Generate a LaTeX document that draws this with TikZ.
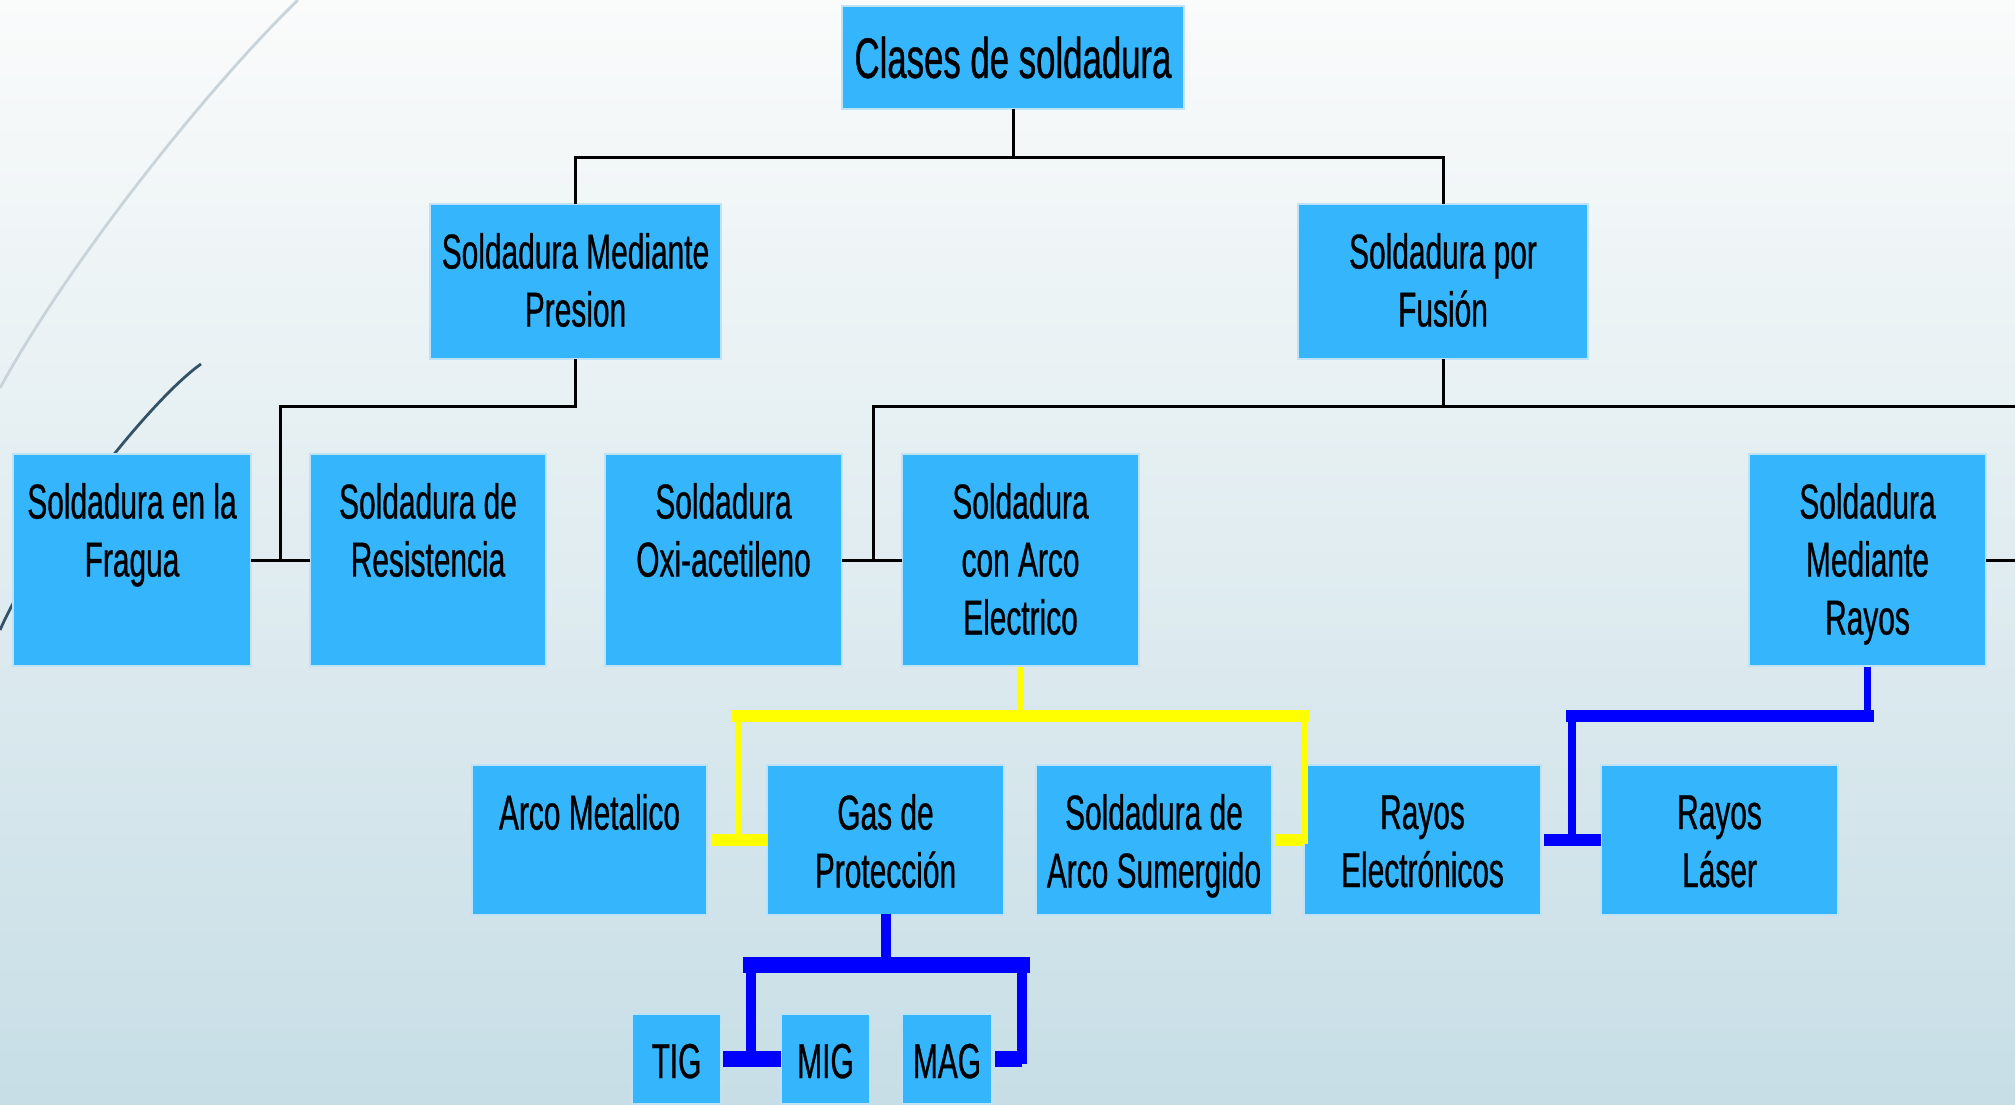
\documentclass[tikz,border=0pt]{standalone}
\usepackage{fontspec}
\setmainfont{Liberation Sans}[FakeStretch=0.61,FakeBold=0.6]
\definecolor{boxfill}{RGB}{52,181,252}
\definecolor{boxline}{RGB}{190,226,248}
\definecolor{bgtop}{RGB}{250,251,251}
\definecolor{bgbot}{RGB}{199,222,230}
\definecolor{arclight}{RGB}{200,212,218}
\definecolor{arcdark}{RGB}{52,82,102}
\definecolor{ylw}{RGB}{255,255,0}
\definecolor{blu}{RGB}{0,0,255}
\newcommand\bx[3]{\parbox[t][#2][t]{#1}{\centering\vspace*{14.5pt}\rule{0pt}{17.5pt}#3\par}}
\begin{document}
\begin{tikzpicture}[x=0.5pt,y=-0.5pt,
  box/.style={draw=boxline, fill=boxfill, line width=1pt, inner sep=0pt, outer sep=0pt,
    anchor=north west, font=\fontsize{24.5pt}{29pt}\selectfont},
  blk/.style={draw=black, line width=1.5pt},
  ythin/.style={draw=ylw, line width=3.5pt, line cap=rect},
  ythick/.style={draw=ylw, line width=6pt},
  bthin/.style={draw=blu, line width=#1, line cap=rect},
  bthick/.style={draw=blu, line width=#1}]
\useasboundingbox (0,0) rectangle (2015,1104);
\clip (0,0) rectangle (2015,1104);
\fill[top color=bgtop, bottom color=bgbot] (0,0) rectangle (2015,1104);
% decorative arcs
\draw[arclight, line width=1.4pt] (298,0) .. controls (210,85) and (70,260) .. (0,388);
\draw[arcdark, line width=1.4pt] (201,364) .. controls (150,400) and (40,540) .. (0,630);
% nodes
\node[box, minimum width=171pt, minimum height=51.5pt, font=\fontsize{28.5pt}{33pt}\selectfont] (clases) at (842,6) {Clases de soldadura};
\node[box] (presion) at (430,204) {\bx{145.5pt}{77.5pt}{Soldadura Mediante\\Presion}};
\node[box] (fusion) at (1298,204) {\bx{145pt}{77.5pt}{Soldadura por\\Fusión}};
\node[box] (fragua) at (13,454) {\bx{119pt}{106pt}{Soldadura en la\\Fragua}};
\node[box] (resist) at (310,454) {\bx{118pt}{106pt}{Soldadura de\\Resistencia}};
\node[box] (oxi) at (605,454) {\bx{118.5pt}{106pt}{Soldadura\\Oxi-acetileno}};
\node[box] (arco) at (902,454) {\bx{118.5pt}{106pt}{Soldadura\\con Arco\\Electrico}};
\node[box] (rayos) at (1749,454) {\bx{118.5pt}{106pt}{Soldadura\\Mediante\\Rayos}};
\node[box] (metal) at (472,765) {\bx{117.5pt}{75pt}{Arco Metalico}};
\node[box] (gas) at (767,765) {\bx{118.5pt}{75pt}{Gas de\\Protección}};
\node[box] (sumer) at (1036,765) {\bx{118pt}{75pt}{Soldadura de\\Arco Sumergido}};
\node[box] (relec) at (1304,765) {\bx{118.5pt}{75pt}{Rayos\\Electrónicos}};
\node[box] (laser) at (1601,765) {\bx{118.5pt}{75pt}{Rayos\\Láser}};
\node[box] (tig) at (632,1014) {\bx{44.5pt}{45pt}{TIG}};
\node[box] (mig) at (781,1014) {\bx{44.5pt}{45pt}{MIG}};
\node[box] (mag) at (902,1014) {\bx{45pt}{45pt}{MAG}};
% black connectors
\coordinate (c1) at (1013,157);
\draw[blk] (clases.south) -- (c1);
\draw[blk] (presion.north) -- (presion.north |- c1) -- (fusion.north |- c1) -- (fusion.north);
\coordinate (c2) at (280,406);
\draw[blk] (presion.south) -- (presion.south |- c2) -- (c2) -- (c2 |- fragua.east);
\draw[blk] (fragua.east) -- (resist.west);
\coordinate (c3) at (873,406);
\coordinate (c4) at (2015,406);
\draw[blk] (fusion.south) -- (fusion.south |- c3);
\draw[blk] (c4) -- (c3) -- (c3 |- oxi.east);
\draw[blk] (oxi.east) -- (arco.west);
\coordinate (c5) at (2015,560);
\draw[blk] (rayos.east) -- (c5);
% yellow connectors
\coordinate (yl) at (738,716);
\coordinate (yr) at (1304,716);
\draw[ythin, shorten <=2pt] (arco.south) -- (arco.south |- yl);
\draw[ythin] (yl) -- (yl |- metal.east);
\draw[ythin] (yr) -- (yr |- sumer.east);
\draw[ythick, line cap=rect] (yl) -- (yr);
\draw[ythick, shorten <=2pt] (metal.east) -- (gas.west);
\draw[ythick, shorten <=2pt] (sumer.east) -- (sumer.east -| yr);
% blue connectors (rayos)
\coordinate (b1) at (1572,716);
\draw[bthin=3.5pt, shorten <=2pt] (rayos.south) -- (rayos.south |- b1);
\draw[bthin=4pt] (b1) -- (b1 |- relec.east);
\draw[bthick=6pt, line cap=rect] (b1) -- (rayos.south |- b1);
\draw[bthick=6pt, shorten <=1.5pt] (relec.east) -- (laser.west);
% blue connectors (gas)
\coordinate (g1) at (751,965);
\coordinate (g2) at (1022,965);
\draw[bthin=5pt, shorten <=2pt] (gas.south) -- (gas.south |- g1);
\draw[bthin=5pt] (g1) -- (g1 |- tig.east);
\draw[bthin=5pt] (g2) -- (g2 |- mag.east);
\draw[bthick=8pt, line cap=rect] (g1) -- (g2);
\draw[bthick=8pt, shorten <=1pt] (tig.east) -- (mig.west);
\draw[bthick=8pt, shorten <=1.5pt] (mag.east) -- (mag.east -| g2);
\end{tikzpicture}
\end{document}
